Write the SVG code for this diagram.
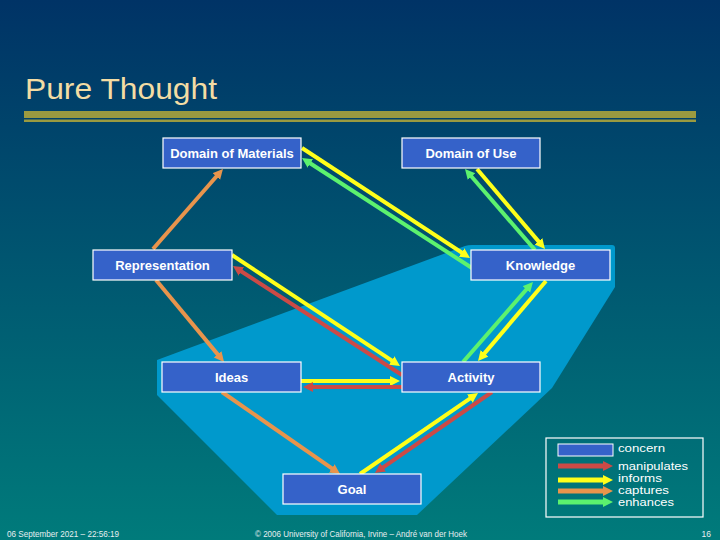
<svg xmlns="http://www.w3.org/2000/svg" width="720" height="540" viewBox="0 0 720 540">
<defs>
<linearGradient id="bg" x1="0" y1="0" x2="0" y2="1">
<stop offset="0" stop-color="#003366"/>
<stop offset="1" stop-color="#007b7b"/>
</linearGradient>
<marker id="aY" markerUnits="userSpaceOnUse" markerWidth="11" markerHeight="11" refX="4" refY="5" orient="auto"><path d="M0,0 L10,5 L0,10 z" fill="#ffff1a"/></marker>
<marker id="aG" markerUnits="userSpaceOnUse" markerWidth="11" markerHeight="11" refX="4" refY="5" orient="auto"><path d="M0,0 L10,5 L0,10 z" fill="#5cf26e"/></marker>
<marker id="aR" markerUnits="userSpaceOnUse" markerWidth="11" markerHeight="11" refX="4" refY="5" orient="auto"><path d="M0,0 L10,5 L0,10 z" fill="#cc4a46"/></marker>
<marker id="aO" markerUnits="userSpaceOnUse" markerWidth="11" markerHeight="11" refX="4" refY="5" orient="auto"><path d="M0,0 L10,5 L0,10 z" fill="#e8944c"/></marker>
</defs>
<style>
.node rect{fill:#3562c9;stroke:#ffffff;stroke-width:1.2}
.node text{font-family:"Liberation Sans",Arial,sans-serif;font-size:13px;font-weight:bold;fill:#ffffff;text-anchor:middle}
.c{fill:none;stroke-width:4}
.y{stroke:#ffff1a;marker-end:url(#aY)}
.g{stroke:#5cf26e;marker-end:url(#aG)}
.r{stroke:#cc4a46;marker-end:url(#aR)}
.o{stroke:#e8944c;marker-end:url(#aO)}
.leg{font-family:"Liberation Sans",Arial,sans-serif;font-size:10.5px;fill:#ffffff}
.foot{font-family:"Liberation Sans",Arial,sans-serif;font-size:8.5px;fill:#e6eef0}
</style>
<rect x="0" y="0" width="720" height="540" fill="url(#bg)"/>
<text x="25" y="99" font-family="Liberation Sans,Arial,sans-serif" font-size="29" fill="#f3dca4" textLength="192" lengthAdjust="spacingAndGlyphs">Pure Thought</text>
<rect x="24" y="111" width="672" height="7" fill="#9a9a40"/>
<rect x="24" y="119.5" width="672" height="2.5" fill="#9a9a40"/>
<path d="M157,360 L465,246 Q468,245 472,245 L612,245 Q615,245 615,248 L615,287 L552,388 L417,515 L277,515 L157,395 Z" fill="#0099cc"/>
<g id="connectors">
<path class="c y" d="M302,148 L465,254.7"/>
<path class="c g" d="M472,268 L307,161.3"/>
<path class="c y" d="M477,169 L541.1,244.4"/>
<path class="c g" d="M535,250 L468.9,173.5"/>
<path class="c o" d="M153,249 L219,173.5"/>
<path class="c y" d="M232,255 L395,362.7"/>
<path class="c r" d="M402,375 L238,269.3"/>
<path class="c o" d="M156,280 L220.2,357.4"/>
<path class="c y" d="M301,381 L394,381"/>
<path class="c r" d="M402,387 L309,387"/>
<path class="c g" d="M463,362 L529,286.5"/>
<path class="c y" d="M546,281 L481.9,356.4"/>
<path class="c o" d="M222,392 L335.1,470.6"/>
<path class="c y" d="M360,474 L473.1,396.4"/>
<path class="c r" d="M492,392 L379.9,469.6"/>
</g>
<g id="domain-of-materials" class="node"><rect x="163" y="138" width="138" height="30"/><text x="232" y="158">Domain of Materials</text></g>
<g id="domain-of-use" class="node"><rect x="402" y="138" width="138" height="30"/><text x="471" y="158">Domain of Use</text></g>
<g id="representation" class="node"><rect x="93" y="250" width="139" height="30"/><text x="162.5" y="270">Representation</text></g>
<g id="knowledge" class="node"><rect x="471" y="250" width="139" height="30"/><text x="540.5" y="270">Knowledge</text></g>
<g id="ideas" class="node"><rect x="162" y="362" width="139" height="30"/><text x="231.5" y="382">Ideas</text></g>
<g id="activity" class="node"><rect x="402" y="362" width="138" height="30"/><text x="471" y="382">Activity</text></g>
<g id="goal" class="node"><rect x="283" y="474" width="138" height="30"/><text x="352" y="494">Goal</text></g>
<g id="legend">
<rect x="546" y="438" width="157" height="79" fill="none" stroke="#ffffff" stroke-width="1.2"/>
<rect x="558" y="444" width="55" height="12" fill="#3562c9" stroke="#ffffff" stroke-width="1"/>
<path d="M558,466 L607,466" stroke="#cc4a46" stroke-width="5" marker-end="url(#aR)"/>
<path d="M558,480 L607,480" stroke="#ffff1a" stroke-width="5" marker-end="url(#aY)"/>
<path d="M558,491 L607,491" stroke="#e8944c" stroke-width="5" marker-end="url(#aO)"/>
<path d="M558,502 L607,502" stroke="#5cf26e" stroke-width="5" marker-end="url(#aG)"/>
<text class="leg" x="618" y="452" textLength="47" lengthAdjust="spacingAndGlyphs">concern</text>
<text class="leg" x="618" y="470" textLength="70" lengthAdjust="spacingAndGlyphs">manipulates</text>
<text class="leg" x="618" y="482" textLength="44" lengthAdjust="spacingAndGlyphs">informs</text>
<text class="leg" x="618" y="494" textLength="51" lengthAdjust="spacingAndGlyphs">captures</text>
<text class="leg" x="618" y="506" textLength="56" lengthAdjust="spacingAndGlyphs">enhances</text>
</g>
<text class="foot" x="7" y="537" textLength="112" lengthAdjust="spacingAndGlyphs">06 September 2021 – 22:56:19</text>
<text class="foot" x="255" y="537" textLength="212" lengthAdjust="spacingAndGlyphs">© 2006 University of California, Irvine – André van der Hoek</text>
<text class="foot" x="711" y="537" text-anchor="end">16</text>
</svg>
